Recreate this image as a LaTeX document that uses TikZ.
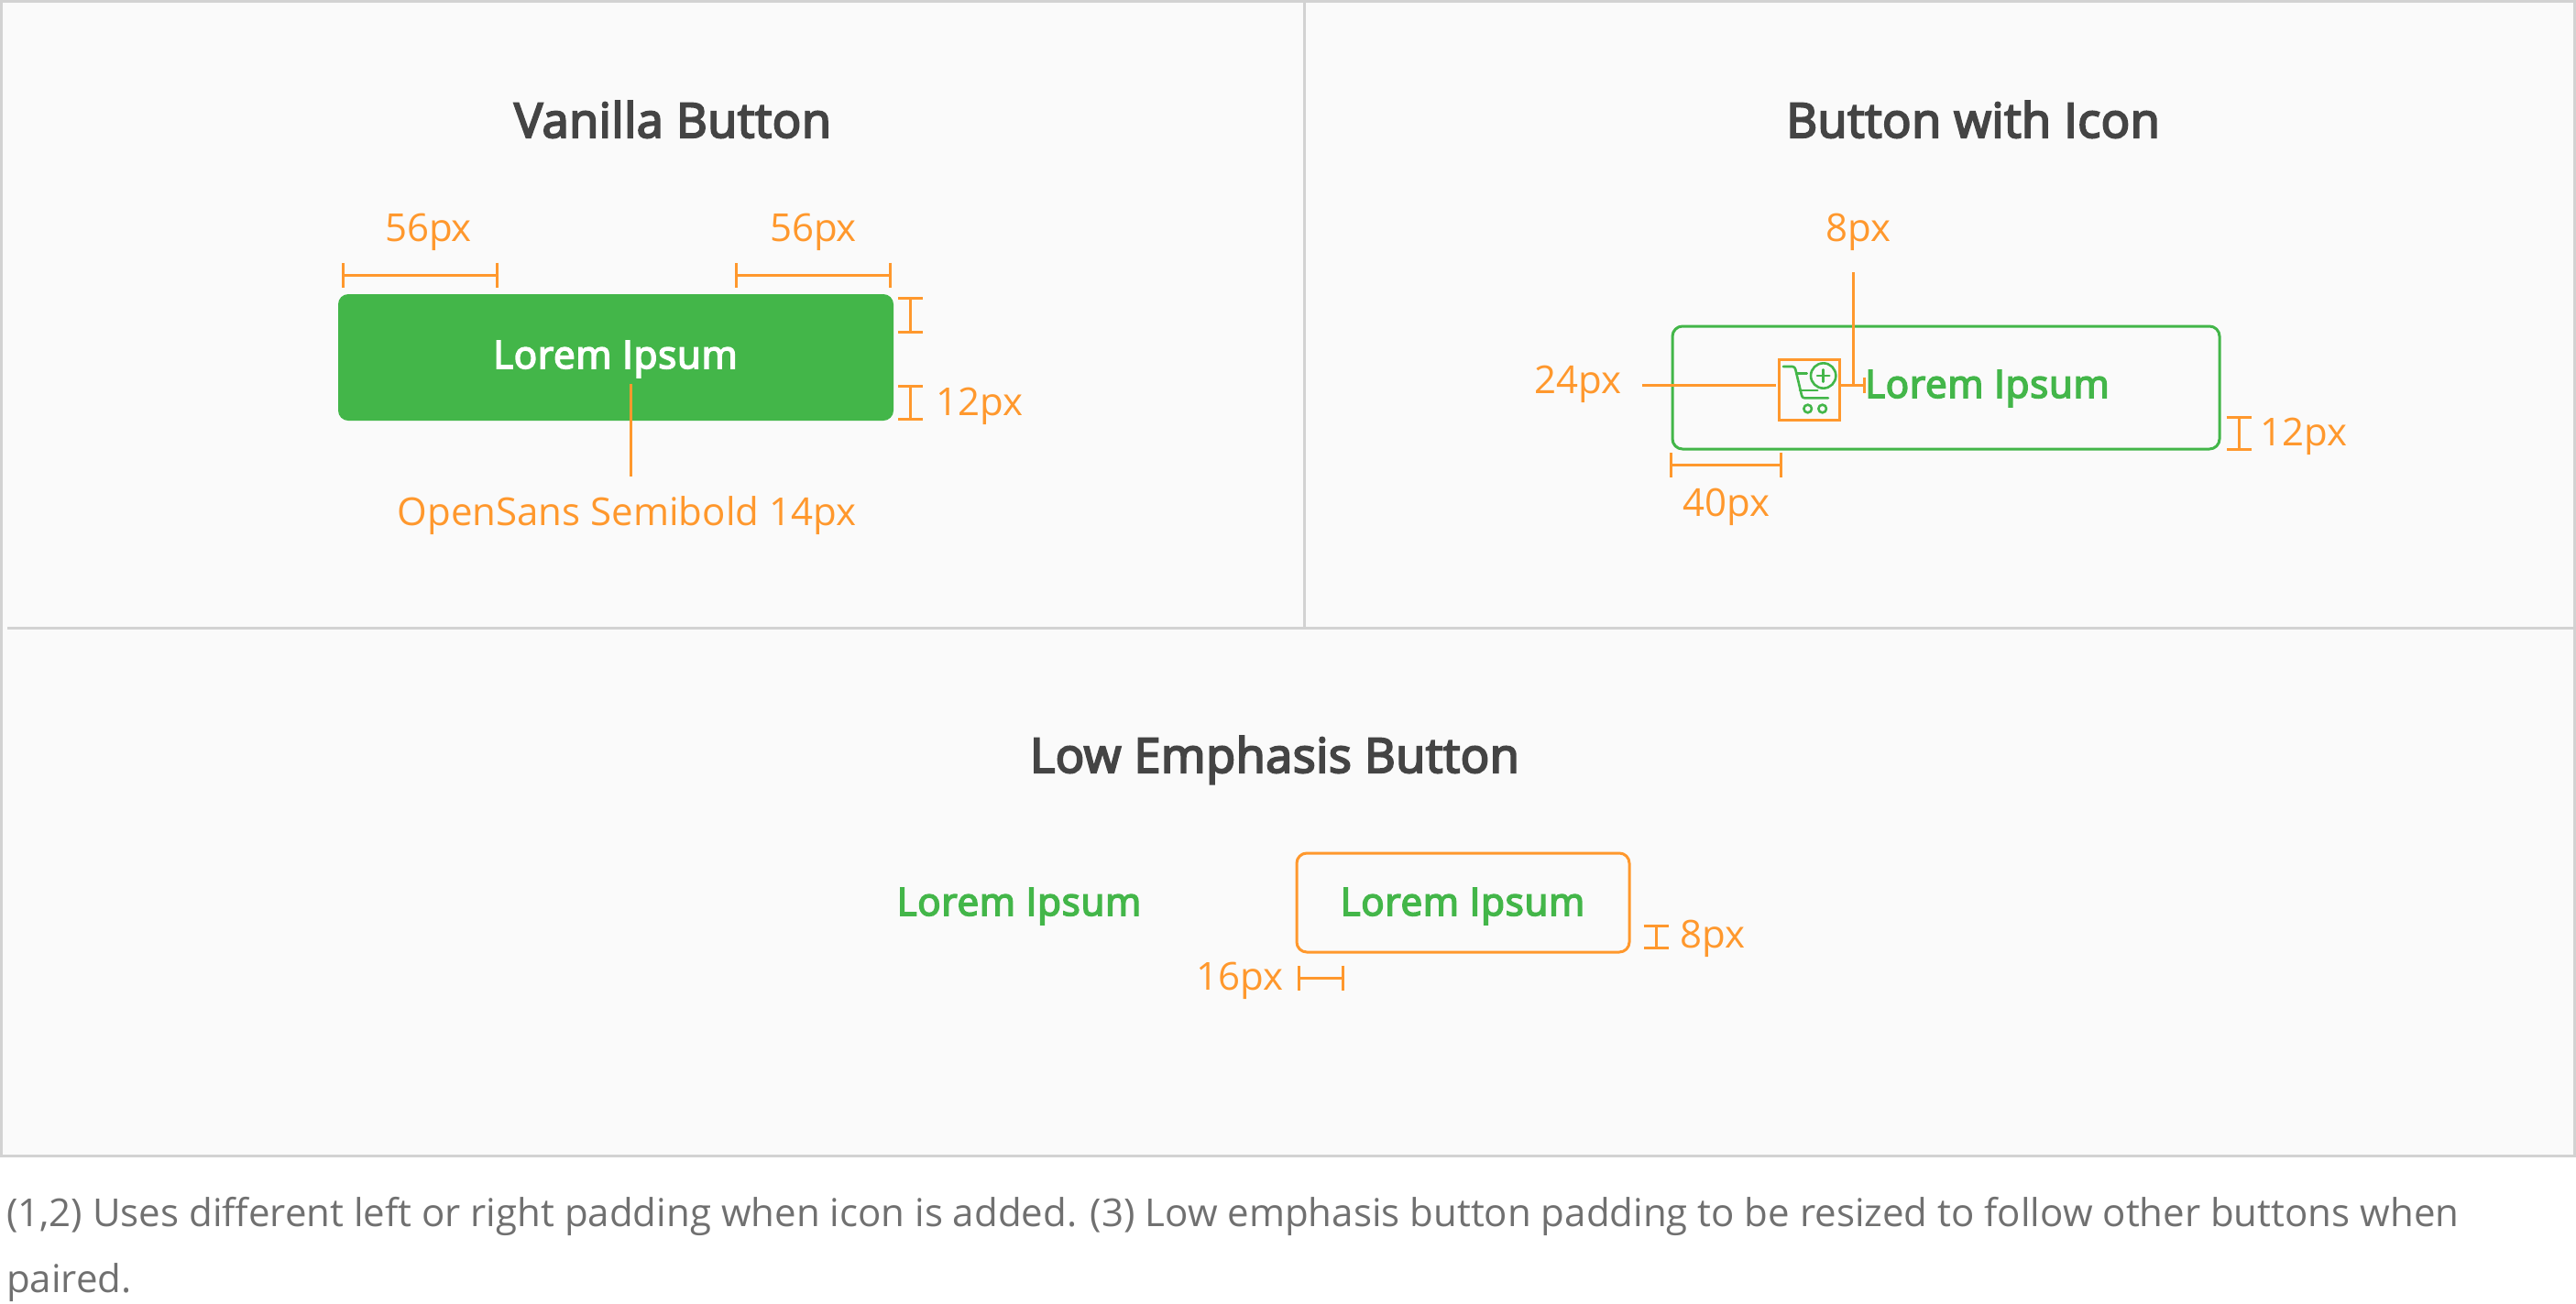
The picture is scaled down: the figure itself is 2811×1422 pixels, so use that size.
\documentclass[tikz,border=0pt]{standalone}
\usepackage{fontspec}
\setmainfont{Open Sans}
\newfontfamily\semi[FakeBold=4,LetterSpace=0.9]{Open Sans}
\newfontfamily\semib[FakeBold=4,LetterSpace=1.9]{Open Sans}
\usetikzlibrary{arrows.meta}
\definecolor{panel}{HTML}{FAFAFA}
\definecolor{rulec}{HTML}{D2D2D2}
\definecolor{org}{HTML}{FF982D}
\definecolor{grn}{HTML}{43B649}
\definecolor{ttl}{HTML}{444444}
\definecolor{capc}{HTML}{707070}
\tikzset{
 title/.style={font=\fontsize{52.3}{60}\selectfont\semi,text=ttl,inner sep=0pt,anchor=base},
 btn/.style={font=\fontsize{42}{50}\selectfont\semib,inner sep=0pt,anchor=base},
 dim/.style={font=\fontsize{42}{50}\selectfont,text=org,inner sep=0pt,anchor=base},
 capt/.style={font=\fontsize{42}{50}\selectfont,text=capc,inner sep=0pt,anchor=base west},
 ln/.style={draw=org,line width=3pt},
 barred/.style={ln,{Bar[width=27pt,line width=3pt]}-{Bar[width=27pt,line width=3pt]}},
 rulel/.style={draw=rulec,line width=3pt},
 ic/.style={draw=grn,line width=2.6pt,line cap=round,line join=round}
}
\begin{document}
\begin{tikzpicture}[x=1pt,y=-1pt]
\useasboundingbox (0,0) rectangle (2811,1422);
\fill[white] (0,0) rectangle (2811,1422);
\fill[panel] (0,0) rectangle (2811,1261);
\draw[rulel] (1.5,1.5) rectangle (2809.5,1261.5);
\draw[rulel] (1423.5,1.5) -- (1423.5,685.5);
\draw[rulel] (8,685.5) -- (2809.5,685.5);
% titles
\node[title] (t1) at (734,150) {Vanilla Button};
\node[title] (t2) at (2153,150) {Button with Icon};
\node[title] (t3) at (1391,843) {Low Emphasis Button};
% vanilla button
\fill[grn,rounded corners=11pt] (369,321) rectangle (975,459);
\node[btn,text=white] (l1) at (671.5,402) {Lorem Ipsum};
\node[dim] (d56a) at (467.5,263) {56px};
\node[dim] (d56b) at (887.5,263) {56px};
\coordinate (a1) at (372.5,300); \coordinate (a2) at (543.5,300);
\coordinate (b1) at (801.5,300); \coordinate (b2) at (973,300);
\coordinate (c1) at (993.5,323.5); \coordinate (c2) at (993.5,363.5);
\coordinate (e1) at (993.5,419.5); \coordinate (e2) at (993.5,458.5);
\draw[barred] (a1) -- (a2);
\draw[barred] (b1) -- (b2);
\draw[barred] (c1) -- (c2);
\draw[barred] (e1) -- (e2);
\node[dim,anchor=base west] (d12a) at (1021,453) {12px};
\coordinate (sa) at (688,419);
\coordinate (sb) at (688,520);
\draw[ln] (sa) -- (sb);
\node[dim] (dos) at (684,573) {OpenSans Semibold 14px};
% button with icon
\draw[draw=grn,line width=3pt,rounded corners=11pt] (1825,356) rectangle (2422,490);
\node[btn,text=grn,anchor=base west] (l2) at (2035,434) {Lorem Ipsum};
\node[dim] (d8a) at (2028,263) {8px};
\node[dim] (d24) at (1722,429) {24px};
\node[dim] (d40) at (1884,563) {40px};
\node[dim,anchor=base west] (d12b) at (2466.5,486) {12px};
\node[draw=org,line width=3pt,minimum width=66pt,minimum height=66pt,inner sep=0pt] (ibox) at (1974,425.5) {};
\coordinate (ia) at (1792,420);
\coordinate (ib) at (1938,420);
\draw[ln] (ia) -- (ib);
\coordinate (ja) at (2005.5,420);
\coordinate (jb) at (2035.5,420);
\draw[barred,{Bar[width=17pt,line width=3pt]}-{Bar[width=17pt,line width=3pt]}] (ja) -- (jb);
\coordinate (ka) at (2022,297);
\coordinate (kb) at (2022,420);
\draw[ln] (ka) -- (kb);
\coordinate (f1) at (1821.5,507); \coordinate (f2) at (1945,507);
\draw[barred] (f1) -- (f2);
\coordinate (g1) at (2443,453.5); \coordinate (g2) at (2443,491.5);
\draw[barred] (g1) -- (g2);
% cart icon
\begin{scope}[shift={(1900,370)},x=0.3333pt,y=-0.3333pt]
\draw[ic] (138,90) -- (168,90) .. controls (174,90) and (176,94) .. (178,100) -- (198,184) .. controls (199,190) and (202,193) .. (208,193) -- (285,193);
\draw[ic] (182,113) -- (215,113);
\draw[ic] (192,168) -- (250,168);
\draw[ic] (218,228) circle (13);
\draw[ic] (266,228) circle (13);
\draw[ic] (269,120) circle (41);
\draw[ic] (249,120) -- (289,120);
\draw[ic] (269,100) -- (269,140);
\end{scope}
% low emphasis
\node[btn,text=grn] (l3) at (1112,999) {Lorem Ipsum};
\draw[draw=org,line width=3pt,rounded corners=11pt] (1415,931) rectangle (1778,1039);
\node[btn,text=grn] (l4) at (1596,999) {Lorem Ipsum};
\coordinate (h1) at (1807,1008.5); \coordinate (h2) at (1807,1035.5);
\draw[barred] (h1) -- (h2);
\node[dim,anchor=base west] (d8b) at (1833,1034) {8px};
\node[dim,anchor=base east] (d16) at (1400.5,1080) {16px};
\coordinate (m1) at (1416,1067); \coordinate (m2) at (1466.5,1067);
\draw[barred] (m1) -- (m2);
% caption
\node[capt] (cap1) at (7,1338) {(1,2) Uses different left or right padding when icon is added. (3) Low emphasis button padding to be resized to follow other buttons when};
\node[capt] (cap2) at (7,1410) {paired.};
\end{tikzpicture}
\end{document}
